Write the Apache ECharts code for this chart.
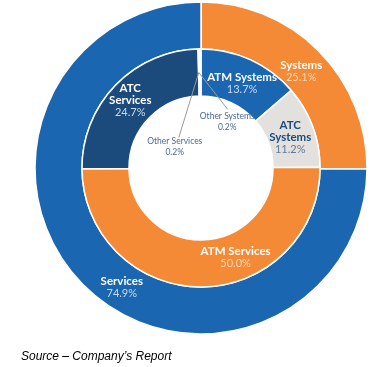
<!DOCTYPE html>
<html><head><meta charset="utf-8">
<script src="https://cdn.jsdelivr.net/npm/echarts@6/dist/echarts.min.js"></script>
<style>html,body{margin:0;padding:0;background:#fff}#c{width:390px;height:367px}</style>
</head><body><div id="c"></div>
<script>
const outerNames = ['Systems', 'Services'];
const outerValues = [25.1, 74.9];
const innerNames = ['ATM Systems', 'ATC Systems', 'ATM Services', 'ATC Services', 'Other Services', 'Other Systems'];
const innerValues = [13.7, 11.2, 50.0, 24.7, 0.2, 0.2];
const sourceText = 'Source \u2013 Company\u2019s Report';

// styles
const BLUE = '#1A66B0', ORANGE = '#F58A36', NAVY = '#1B4A7C', GREY = '#E2E1DE';
const outerColors = [ORANGE, BLUE];
const outerValColors = ['#FCD9B8', '#C9DAEE'];
const outerOffsets = [[-3, 6], [24, 17]];
const innerColors = [BLUE, GREY, ORANGE, NAVY, '#F4F4F4', '#F4F4F4'];
const innerNameColors = ['#fff', NAVY, '#fff', '#fff', '#4A6A93', '#4A6A93'];
const innerValColors = ['#C9DAEE', '#5F7A98', '#FCD9B8', '#C9DAEE', '#4A6A93', '#4A6A93'];
const innerOffsets = [[0, 5], [-3, 4], [34, -9], [0, 1], [0, 0], [0, 0]];
// leader line end offsets relative to the line's start (ring middle at the small slices)
const leaderEnds = {4: [-20, 65], 5: [29, 37]};

const FONT = 'Lato';
function richFor(nameColor, valColor, small) {
  return {
    n: {color: nameColor, fontFamily: FONT, fontWeight: small ? 'normal' : 'bold', fontSize: small ? 8.5 : 11.5, lineHeight: small ? 11 : 12, align: 'center'},
    v: {color: valColor, fontFamily: FONT, fontWeight: 'normal', fontSize: small ? 8.5 : 11, lineHeight: small ? 11 : 12, align: 'center'}
  };
}
function fmt(p) {
  const parts = p.name.split(' ');
  let nameTxt = p.name;
  if (p.data.split2) nameTxt = parts[0] + '\n' + parts.slice(1).join(' ');
  return nameTxt.split('\n').map(s => '{n|' + s + '}').join('\n') + '\n{v|' + p.value.toFixed(1) + '%}';
}

const outerData = outerNames.map((n, i) => ({
  name: n, value: outerValues[i],
  itemStyle: {color: outerColors[i]},
  label: {offset: outerOffsets[i], rich: richFor('#fff', outerValColors[i], false)}
}));
const innerData = innerNames.map((n, i) => {
  const small = i >= 4;
  return {
    name: n, value: innerValues[i], split2: (i === 1 || i === 3),
    itemStyle: {color: innerColors[i]},
    label: small ? {position: 'outside', rich: richFor(innerNameColors[i], innerValColors[i], true)}
                 : {offset: innerOffsets[i], rich: richFor(innerNameColors[i], innerValColors[i], false)},
    labelLine: {show: false}
  };
});

const chart = echarts.init(document.getElementById('c'), null, {renderer: 'canvas'});
chart.setOption({
  backgroundColor: '#fff',
  animation: false,
  series: [
    {
      type: 'pie', center: [201, 168], radius: [119, 166], startAngle: 90, clockwise: true,
      itemStyle: {borderColor: '#fff', borderWidth: 1.5},
      label: {position: 'inside', formatter: fmt},
      labelLine: {show: false},
      data: outerData
    },
    {
      type: 'pie', center: [201, 168], radius: [72, 119], startAngle: 90, clockwise: true,
      minAngle: 0, avoidLabelOverlap: false,
      itemStyle: {borderColor: '#fff', borderWidth: 1.5},
      label: {position: 'inside', formatter: fmt},
      labelLayout: function (p) {
        if (p.dataIndex < 4) return {};
        const a = p.labelLinePoints ? p.labelLinePoints[0] : [p.rect.x + p.rect.width / 2, p.rect.y];
        if (p.dataIndex === 4) {
          return {x: a[0] - 24, y: a[1] + 87, align: 'center', verticalAlign: 'top'};
        }
        return {x: a[0] + 27, y: a[1] + 62, align: 'center', verticalAlign: 'top'};
      },
      data: innerData
    }
  ],
  graphic: [{
    id: 'src', type: 'text', left: 21, top: 351,
    style: {text: sourceText, fontFamily: 'Liberation Sans', fontStyle: 'italic', fontSize: 12, fill: '#000'}
  }]
});

// leader lines, anchored on the library's own layout of the small slices
(function () {
  const data = chart.getModel().getSeriesByIndex(1).getData();
  const lay = data.getItemLayout(4);
  const ang = lay.endAngle;
  const rm = (lay.r + lay.r0) / 2;
  const sx = lay.cx + rm * Math.cos(ang) - 1;
  const sy = lay.cy + rm * Math.sin(ang);
  const lines = Object.keys(leaderEnds).map(k => ({
    id: 'leader' + k, type: 'polyline', z: 10,
    shape: {points: [[sx, sy], [sx + leaderEnds[k][0], sy + leaderEnds[k][1]]]},
    style: {stroke: '#9A9A9A', lineWidth: 1, fill: null}
  }));
  chart.setOption({graphic: lines});
})();
</script></body></html>
